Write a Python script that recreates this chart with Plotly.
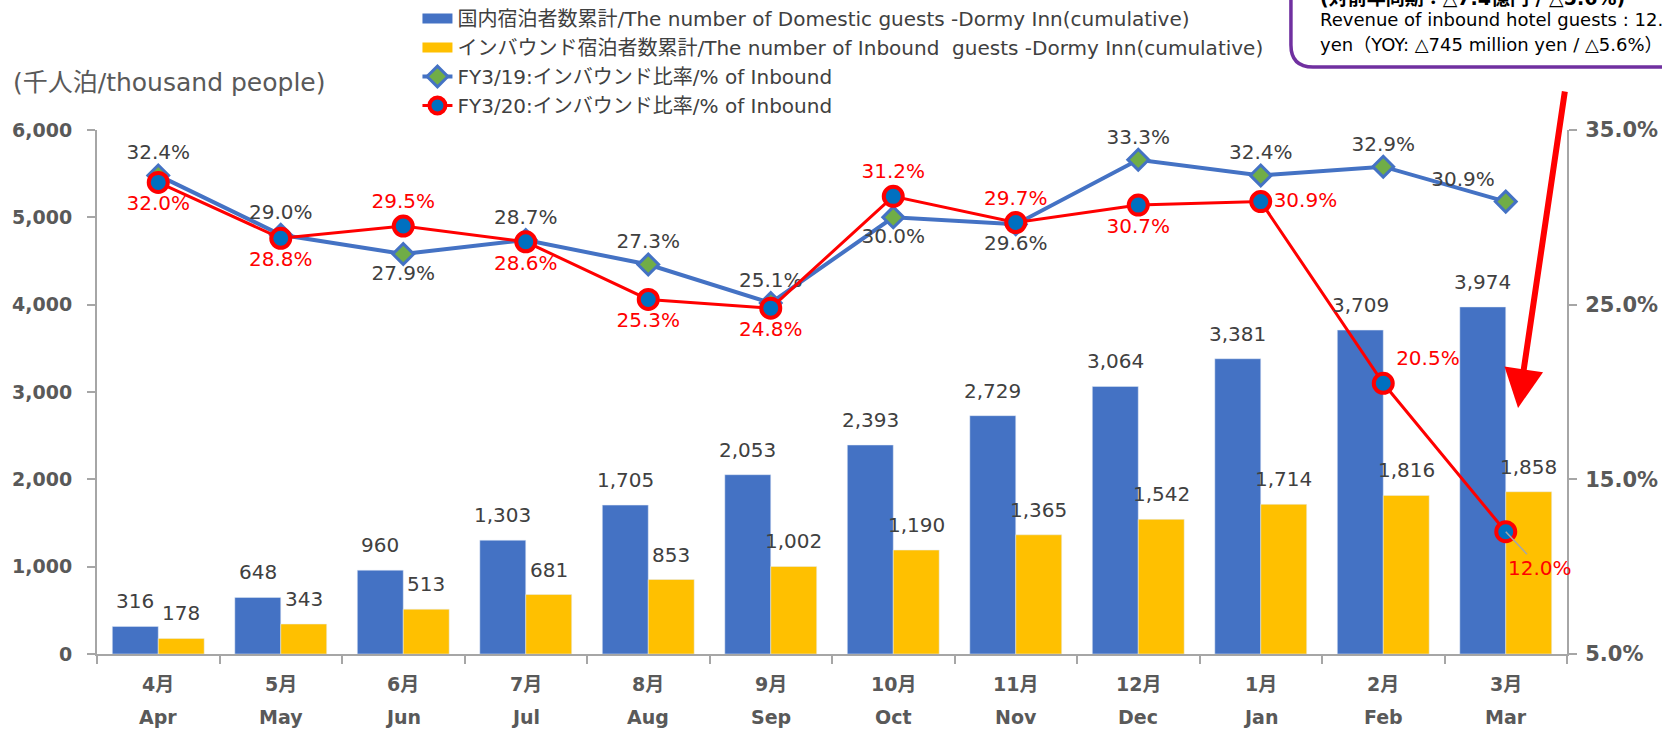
import plotly.graph_objects as go

months_jp = ["4月", "5月", "6月", "7月", "8月", "9月", "10月", "11月", "12月", "1月", "2月", "3月"]
months_en = ["Apr", "May", "Jun", "Jul", "Aug", "Sep", "Oct", "Nov", "Dec", "Jan", "Feb", "Mar"]
domestic = [316, 648, 960, 1303, 1705, 2053, 2393, 2729, 3064, 3381, 3709, 3974]
inbound = [178, 343, 513, 681, 853, 1002, 1190, 1365, 1542, 1714, 1816, 1858]
fy19 = [32.4, 29.0, 27.9, 28.7, 27.3, 25.1, 30.0, 29.6, 33.3, 32.4, 32.9, 30.9]
fy20 = [32.0, 28.8, 29.5, 28.6, 25.3, 24.8, 31.2, 29.7, 30.7, 30.9, 20.5, 12.0]
y_ticks = [0, 1000, 2000, 3000, 4000, 5000, 6000]
y2_ticks = [5, 15, 25, 35]

names = [
    "国内宿泊者数累計/The number of Domestic guests -Dormy Inn(cumulative)",
    "インバウンド宿泊者数累計/The number of Inbound  guests -Dormy Inn(cumulative)",
    "FY3/19:インバウンド比率/% of Inbound",
    "FY3/20:インバウンド比率/% of Inbound",
]

FONT = "DejaVu Sans, Noto Sans CJK JP, sans-serif"
GRAY = "#595959"
DARK = "#404040"
AX = "#A6A6A6"
BLUE = "#4472C4"
GOLD = "#FFC000"

pos19 = ["top center", "top center", "bottom center", "top center", "top center", "top center",
         "bottom center", "bottom center", "top center", "top center", "top center", "top left"]
pos20 = ["bottom center", "bottom center", "top center", "bottom center", "bottom center", "bottom center",
         "top center", "top center", "bottom center", "middle right", "top right", "bottom right"]

txt19 = [f"{v:.1f}%" for v in fy19]
txt20 = [f"{v:.1f}%" for v in fy20]
txt20[-1] = ""

fig = go.Figure()
fig.add_trace(go.Bar(x=months_jp, y=domestic, name=names[0], marker_color=BLUE, showlegend=False))
fig.add_trace(go.Bar(x=months_jp, y=inbound, name=names[1], marker_color=GOLD, showlegend=False))
# legend swatches for bars (wide rectangles)
fig.add_trace(go.Scatter(x=[None], y=[None], mode="lines", name=names[0],
                         line=dict(color=BLUE, width=14)))
fig.add_trace(go.Scatter(x=[None], y=[None], mode="lines", name=names[1],
                         line=dict(color=GOLD, width=14)))
fig.add_trace(go.Scatter(x=months_jp, y=fy19, name=names[2], yaxis="y2", mode="lines+markers+text",
                         line=dict(color=BLUE, width=4),
                         marker=dict(symbol="diamond", size=16, color="#70AD47",
                                     line=dict(color=BLUE, width=3)),
                         text=txt19, textposition=pos19,
                         textfont=dict(size=20, color=DARK, family=FONT), cliponaxis=False))
fig.add_trace(go.Scatter(x=months_jp, y=fy20, name=names[3], yaxis="y2", mode="lines+markers+text",
                         line=dict(color="#FF0000", width=3),
                         marker=dict(symbol="circle", size=19, color="#0070C0",
                                     line=dict(color="#FF0000", width=4)),
                         text=txt20, textposition=pos20,
                         textfont=dict(size=20, color="#FF0000", family=FONT), cliponaxis=False))

annotations = []
# bar value labels
for m, d, i in zip(months_jp, domestic, inbound):
    annotations.append(dict(x=m, y=d, xref="x", yref="y", text=f"{d:,}", showarrow=False,
                            xshift=-23, yshift=25, yanchor="middle",
                            font=dict(size=20, color=DARK, family=FONT)))
    annotations.append(dict(x=m, y=i, xref="x", yref="y", text=f"{i:,}", showarrow=False,
                            xshift=23, yshift=25, yanchor="middle",
                            font=dict(size=20, color=DARK, family=FONT)))

for jp, en in zip(months_jp, months_en):
    annotations.append(dict(x=jp, y=-0.057, xref="x", yref="paper", text=jp, showarrow=False,
                            font=dict(size=19, color=GRAY, family=FONT, weight="bold"), yanchor="middle"))
    annotations.append(dict(x=jp, y=-0.121, xref="x", yref="paper", text=en, showarrow=False,
                            font=dict(size=19, color=GRAY, family=FONT, weight="bold"), yanchor="middle"))

# Mar FY3/20 label with leader line
annotations.append(dict(x=months_jp[-1], y=fy20[-1], xref="x", yref="y2", text=f"{fy20[-1]:.1f}%",
                        showarrow=True, arrowhead=0, arrowcolor="#A6A6A6", arrowwidth=1.5,
                        ax=34, ay=36, standoff=0,
                        font=dict(size=20, color="#FF0000", family=FONT)))

# y-axis title
annotations.append(dict(x=-0.0585, y=1.0916, xref="paper", yref="paper", xanchor="left", yanchor="middle",
                        text="(千人泊/thousand people)", showarrow=False,
                        font=dict(size=25, color=GRAY, family=FONT)))

# callout texts
annotations.append(dict(x=0.8306, y=1.252, xref="paper", yref="paper", xanchor="left", yanchor="middle",
                        text="<b>(対前年同期：△7.4億円 / △5.6%)</b>", showarrow=False,
                        font=dict(size=19, color="#000000", family=FONT)))
annotations.append(dict(x=0.8306, y=1.2115, xref="paper", yref="paper", xanchor="left", yanchor="middle",
                        text="Revenue of inbound hotel guests : 12.5 billion", showarrow=False,
                        font=dict(size=18, color="#000000", family=FONT)))
annotations.append(dict(x=0.8306, y=1.164, xref="paper", yref="paper", xanchor="left", yanchor="middle",
                        text="yen（YOY: △745 million yen / △5.6%）", showarrow=False,
                        font=dict(size=18, color="#000000", family=FONT)))

# red arrow
annotations.append(dict(x=0.9667, y=0.4695, xref="paper", yref="paper", text="", showarrow=True,
                        arrowhead=2, arrowsize=1.3, arrowwidth=6, arrowcolor="#FF0000",
                        ax=47, ay=-318, standoff=0))

x0, yb, rx, ry, xr, yt = 0.8122, 1.1202, 0.015, 0.042, 1.09, 1.29
box_path = (f"M {x0},{yt} L {x0},{yb+ry} Q {x0},{yb} {x0+rx},{yb} L {xr},{yb} L {xr},{yt}")

fig.update_layout(
    width=1662, height=730,
    margin=dict(l=97, r=95, t=130, b=76, autoexpand=False),
    paper_bgcolor="white", plot_bgcolor="white",
    barmode="group", bargap=0.25, bargroupgap=0,
    font=dict(family=FONT, color=GRAY),
    legend=dict(x=0.218, y=1.25, xanchor="left", yanchor="top", bgcolor="rgba(0,0,0,0)",
                font=dict(size=20, color=DARK, family=FONT), traceorder="normal"),
    xaxis=dict(type="category", range=[-0.5, 11.5], showticklabels=False, ticks="outside",
               tickson="boundaries", ticklen=8, tickcolor=AX, tickwidth=2, showline=True,
               linecolor=AX, linewidth=2, showgrid=False, zeroline=False),
    yaxis=dict(range=[0, 6000], tickvals=y_ticks, tickformat=",", ticks="outside", ticklen=8,
               tickcolor=AX, tickwidth=2, showline=True, linecolor=AX, linewidth=2,
               showgrid=False, zeroline=False, ticklabelstandoff=11,
               tickfont=dict(size=19, color=GRAY, family=FONT, weight="bold")),
    yaxis2=dict(range=[5, 35], tickvals=y2_ticks, ticktext=[f"{v:.1f}%" for v in y2_ticks],
                overlaying="y", side="right", ticks="outside", ticklen=8,
                tickcolor=AX, tickwidth=2, showline=True, linecolor=AX, linewidth=2,
                showgrid=False, zeroline=False, ticklabelstandoff=4,
                tickfont=dict(size=21, color=GRAY, family=FONT, weight="bold")),
    annotations=annotations,
    shapes=[dict(type="path", path=box_path, xref="paper", yref="paper",
                 line=dict(color="#7030A0", width=3.5))],
    showlegend=True,
)

fig.write_html("out.html")
